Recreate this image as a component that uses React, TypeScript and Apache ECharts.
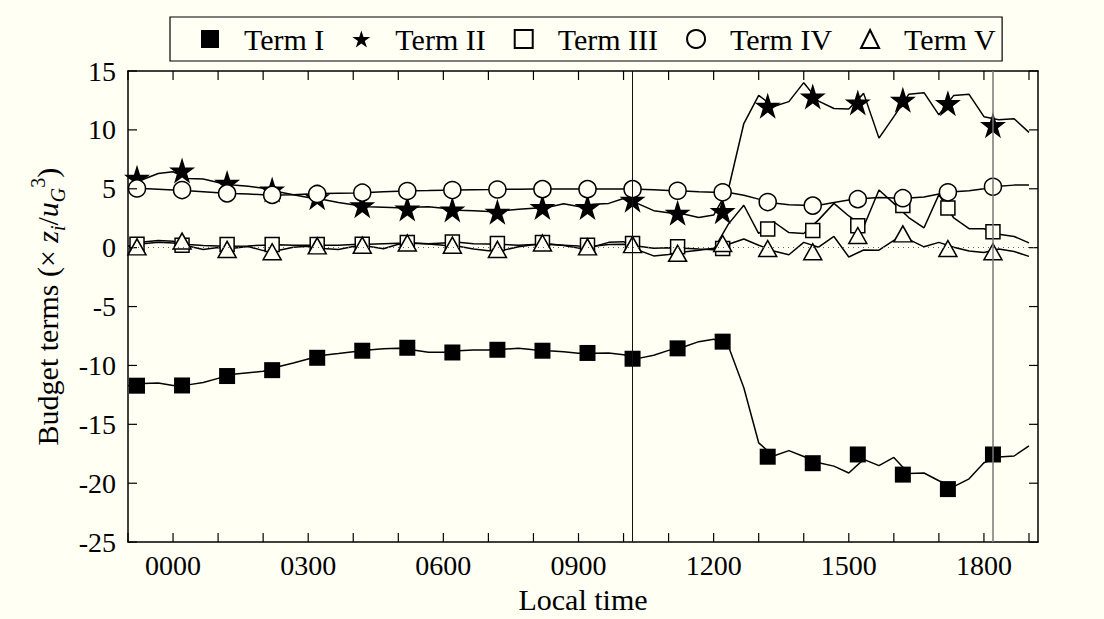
import React, { useEffect, useRef } from 'react';
import * as echarts from 'echarts';

// Local time (hours) of the curve samples
const TIME = [-1, -0.67, -0.33, 0, 0.33, 0.67, 1, 1.33, 1.67, 2, 2.33, 2.67, 3, 3.33, 3.67, 4, 4.33, 4.67, 5, 5.33, 5.67, 6, 6.33, 6.67, 7, 7.33, 7.67, 8, 8.33, 8.67, 9, 9.33, 9.67, 10, 10.33, 10.67, 11, 11.33, 11.67, 12, 12.33, 12.67, 13, 13.33, 13.67, 14, 14.33, 14.67, 15, 15.33, 15.67, 16, 16.33, 16.67, 17, 17.33, 17.67, 18, 18.33, 18.67, 19];

const TERM_I = [-11.72, -11.53, -11.5, -11.7, -11.65, -11.45, -11.1, -10.75, -10.62, -10.5, -10.12, -9.79, -9.46, -9.13, -8.99, -8.83, -8.68, -8.58, -8.54, -8.68, -8.88, -8.88, -8.76, -8.69, -8.69, -8.62, -8.55, -8.66, -8.76, -8.84, -8.97, -8.97, -8.94, -9.09, -9.4, -9.13, -8.72, -8.43, -7.98, -7.77, -8.39, -11.9, -16.57, -17.69, -17.23, -17.73, -18.26, -18.55, -19.13, -17.98, -18.51, -17.81, -19.17, -19.13, -19.79, -20.29, -19.63, -18.26, -17.77, -17.69, -16.82];
const TERM_II = [5.95, 5.79, 6.3, 6.45, 5.87, 5.83, 5.54, 5.33, 5.22, 5.04, 4.75, 4.5, 4.26, 4.09, 3.84, 3.64, 3.47, 3.43, 3.39, 3.43, 3.47, 3.35, 3.18, 3.14, 3.06, 3.14, 3.26, 3.35, 3.43, 3.72, 3.49, 3.68, 3.76, 4.17, 3.72, 3.14, 2.96, 2.85, 2.56, 2.77, 5.0, 10.54, 12.93, 11.98, 12.4, 14.01, 12.44, 11.82, 11.78, 13.1, 9.3, 11.12, 13.02, 13.16, 11.28, 12.93, 13.02, 11.12, 10.87, 10.95, 9.79];
const TERM_III = [0.12, 0.34, 0.45, 0.4, 0.26, 0.18, 0.15, 0.12, 0.15, 0.21, 0.24, 0.21, 0.21, 0.21, 0.21, 0.26, 0.29, 0.34, 0.37, 0.4, 0.34, 0.4, 0.45, 0.34, 0.31, 0.26, 0.21, 0.26, 0.26, 0.21, 0.15, 0.12, 0.26, 0.29, 0.12, -0.04, 0.0, -0.04, -0.12, -0.17, 2.02, 3.6, 1.2, 2.2, 1.28, 1.2, 2.36, 3.76, 2.69, 1.78, 4.9, 3.76, 2.56, 1.69, 4.5, 2.52, 1.61, 1.61, 1.14, 0.95, 0.41];
const TERM_IV = [5.04, 5.02, 4.96, 4.89, 4.83, 4.75, 4.67, 4.6, 4.55, 4.5, 4.48, 4.5, 4.55, 4.59, 4.63, 4.65, 4.69, 4.75, 4.79, 4.83, 4.85, 4.88, 4.9, 4.92, 4.93, 4.95, 4.97, 4.98, 4.98, 4.98, 4.98, 4.98, 4.98, 4.98, 4.96, 4.92, 4.86, 4.81, 4.75, 4.71, 4.69, 4.45, 4.12, 3.8, 3.64, 3.6, 3.6, 3.84, 4.05, 4.17, 4.26, 4.21, 4.21, 4.31, 4.55, 4.74, 4.83, 5.0, 5.21, 5.31, 5.31];
const TERM_V = [0.07, 0.48, 0.6, 0.54, 0.15, -0.15, 0.01, -0.04, 0.1, -0.25, -0.25, 0.04, 0.12, -0.07, -0.15, 0.1, 0.12, -0.1, 0.29, 0.37, 0.31, 0.21, 0.12, -0.12, -0.26, -0.21, 0.07, 0.24, 0.34, 0.18, -0.04, 0.07, 0.45, 0.51, -0.21, -0.7, -0.58, -0.37, -0.21, -0.04, 0.29, 0.74, 0.21, -0.29, -0.6, 0.45, 0.04, 0.95, -0.79, -0.2, -0.21, 0.62, 0.7, 0.07, 0.45, 0.04, -0.29, -0.41, -0.12, -0.33, -0.74];

// Hourly marker positions
const MARK_T = [-0.8, 0.2, 1.2, 2.2, 3.2, 4.2, 5.2, 6.2, 7.2, 8.2, 9.2, 10.2, 11.2, 12.2, 13.2, 14.2, 15.2, 16.2, 17.2, 18.2];
const MARK_I = [-11.72, -11.7, -10.9, -10.4, -9.35, -8.75, -8.5, -8.9, -8.67, -8.75, -8.94, -9.43, -8.55, -7.98, -17.75, -18.3, -17.56, -19.27, -20.5, -17.56];
const MARK_II = [5.93, 6.55, 5.5, 4.94, 4.28, 3.6, 3.32, 3.24, 3.04, 3.45, 3.45, 4.07, 2.96, 3.1, 12.05, 12.83, 12.33, 12.55, 12.27, 10.4];
const MARK_III = [0.29, 0.2, 0.26, 0.26, 0.26, 0.3, 0.43, 0.48, 0.35, 0.43, 0.21, 0.35, 0.07, -0.07, 1.59, 1.45, 1.86, 3.57, 3.37, 1.36];
const MARK_IV = [5.03, 4.89, 4.61, 4.48, 4.56, 4.67, 4.81, 4.89, 4.94, 4.97, 4.97, 4.97, 4.83, 4.7, 3.87, 3.57, 4.12, 4.2, 4.7, 5.17];
const MARK_V = [0.07, 0.56, -0.15, -0.35, 0.15, 0.21, 0.4, 0.21, -0.15, 0.4, 0.07, 0.26, -0.48, 0.35, -0.07, -0.35, 1.03, 1.17, -0.07, -0.35];

const SERIES_NAMES = ['Term I', 'Term II', 'Term III', 'Term IV', 'Term V'];
const X_TICK_LABELS: Record<number, string> = { 0: '0000', 3: '0300', 6: '0600', 9: '0900', 12: '1200', 15: '1500', 18: '1800' };
const X_TICKS = [-1, 0, 1, 2, 3, 4, 5, 6, 7, 8, 9, 10, 11, 12, 13, 14, 15, 16, 17, 18, 19];
const Y_TICKS = [-25, -20, -15, -10, -5, 0, 5, 10, 15];
const VERTICAL_LINES = [10.2, 18.2];

const X_MIN = -1;
const X_MAX = 19.2;
const Y_MIN = -25;
const Y_MAX = 15;

const BG = '#fffff4';
const FONT = "'Liberation Serif', 'Times New Roman', serif";
const STAR = 'path://M100,0 L122.45,69.1 L195.1,69.1 L136.33,111.8 L158.78,180.9 L100,138.2 L41.22,180.9 L63.67,111.8 L4.9,69.1 L77.55,69.1 Z';

export default function App() {
  const ref = useRef<HTMLDivElement>(null);
  useEffect(() => {
    if (!ref.current) return;
    const chart = echarts.init(ref.current, null, { renderer: 'svg' });
    const curves = [TERM_I, TERM_II, TERM_III, TERM_IV, TERM_V];
    const marks = [MARK_I, MARK_II, MARK_III, MARK_IV, MARK_V];
    const markerDefs: any[] = [
      { symbol: 'rect', size: 16, fill: '#000', bw: 0 },
      { symbol: STAR, size: 26, fill: '#000', bw: 0 },
      { symbol: 'rect', size: 14, fill: BG, bw: 1.5 },
      { symbol: 'circle', size: 17, fill: BG, bw: 1.5 },
      { symbol: 'triangle', size: [18, 16], fill: BG, bw: 1.5 },
    ];
    const lineSeries = curves.map((vals, i) => ({
      type: 'line',
      name: SERIES_NAMES[i] + ' curve',
      data: TIME.map((t, j) => [t, vals[j]]),
      showSymbol: false,
      symbol: 'none',
      silent: true,
      z: 2,
      lineStyle: { color: '#000', width: 1.5 },
      markLine: i === 0 ? {
        silent: true,
        symbol: ['none', 'none'],
        label: { show: false },
        data: [
          { xAxis: VERTICAL_LINES[0], lineStyle: { color: '#111', width: 1, type: 'solid' } },
          { xAxis: VERTICAL_LINES[1], lineStyle: { color: '#777', width: 1.5, type: 'solid' } },
          { yAxis: 0, lineStyle: { color: '#666', width: 1, type: [1, 4] } },
        ],
      } : undefined,
    }));
    const markerSeries = marks.map((vals, i) => ({
      type: 'scatter',
      name: SERIES_NAMES[i],
      data: MARK_T.map((t, j) => [t, vals[j]]),
      symbol: markerDefs[i].symbol,
      symbolSize: markerDefs[i].size,
      z: 3,
      silent: true,
      itemStyle: { color: markerDefs[i].fill, borderColor: '#000', borderWidth: markerDefs[i].bw, opacity: 1 },
    }));
    const TICK_LEN = 9;
    const tickStyle = { stroke: '#000', lineWidth: 1.2 };
    // inward ticks on all four sides of the frame, placed through the axes' scales
    const xTickSeries = {
      type: 'custom', name: 'x ticks', silent: true, z: 4, clip: false,
      data: X_TICKS.map((t) => [t, Y_MIN]),
      renderItem: (_p: any, api: any) => {
        const x = api.value(0);
        const b = api.coord([x, Y_MIN]);
        const t = api.coord([x, Y_MAX]);
        return {
          type: 'group',
          children: [
            { type: 'line', shape: { x1: b[0], y1: b[1], x2: b[0], y2: b[1] - TICK_LEN }, style: tickStyle },
            { type: 'line', shape: { x1: t[0], y1: t[1], x2: t[0], y2: t[1] + TICK_LEN }, style: tickStyle },
          ],
        };
      },
    };
    const yTickSeries = {
      type: 'custom', name: 'y ticks', silent: true, z: 4, clip: false,
      data: Y_TICKS.map((v) => [X_MIN, v]),
      renderItem: (_p: any, api: any) => {
        const y = api.value(1);
        const l = api.coord([X_MIN, y]);
        const r = api.coord([X_MAX, y]);
        return {
          type: 'group',
          children: [
            { type: 'line', shape: { x1: l[0], y1: l[1], x2: l[0] + TICK_LEN, y2: l[1] }, style: tickStyle },
            { type: 'line', shape: { x1: r[0], y1: r[1], x2: r[0] - TICK_LEN, y2: r[1] }, style: tickStyle },
          ],
        };
      },
    };
    const mkLine = () => ({ show: true, onZero: false, lineStyle: { color: '#000', width: 1.5 } });
    const noTick = { show: false };
    const labelStyle = { fontFamily: FONT, fontSize: 28, color: '#000' };
    const nameStyle = { fontFamily: FONT, fontSize: 30, color: '#000' };
    chart.setOption({
      animation: false,
      backgroundColor: BG,
      grid: { left: 128, right: 66, top: 71, bottom: 64, containLabel: false },
      legend: {
        data: SERIES_NAMES,
        left: 170,
        top: 17,
        orient: 'horizontal',
        itemWidth: 18,
        itemHeight: 18,
        itemGap: 28,
        padding: [7, 6, 7, 31],
        borderColor: '#000',
        borderWidth: 1.2,
        backgroundColor: BG,
        selectedMode: false,
        textStyle: { ...nameStyle, padding: [0, 0, 0, 20] },
      },
      xAxis: [
        {
          type: 'value', min: X_MIN, max: X_MAX, interval: 1, position: 'bottom',
          axisLine: mkLine(), axisTick: noTick, splitLine: { show: false },
          axisLabel: {
            ...labelStyle, margin: 9,
            formatter: (v: number) => {
              const r = Math.round(v * 1000) / 1000;
              return X_TICK_LABELS[r] ?? '';
            },
          },
          name: 'Local time', nameLocation: 'middle', nameGap: 41,
          nameTextStyle: { ...nameStyle },
        },
        {
          type: 'value', min: X_MIN, max: X_MAX, interval: 1, position: 'top',
          axisLine: mkLine(), axisTick: noTick, splitLine: { show: false }, axisLabel: { show: false },
        },
      ],
      yAxis: [
        {
          type: 'value', min: Y_MIN, max: Y_MAX, interval: 5, position: 'left',
          axisLine: mkLine(), axisTick: noTick, splitLine: { show: false },
          axisLabel: { ...labelStyle, margin: 12 },
          name: '{n|Budget terms (× }{it|z}{sub|i}{n|/}{it|u}{sub|G}{sup|3}{n|)}',
          nameLocation: 'middle', nameRotate: 90, nameGap: 56,
          nameTextStyle: {
            ...nameStyle,
            rich: {
              n: { fontFamily: FONT, fontSize: 30, color: '#000', lineHeight: 40 },
              it: { fontFamily: FONT, fontSize: 30, color: '#000', fontStyle: 'italic', lineHeight: 40 },
              sub: { fontFamily: FONT, fontSize: 20, color: '#000', fontStyle: 'italic', lineHeight: 20, verticalAlign: 'bottom' },
              sup: { fontFamily: FONT, fontSize: 20, color: '#000', lineHeight: 20, verticalAlign: 'top' },
            },
          },
        },
        {
          type: 'value', min: Y_MIN, max: Y_MAX, interval: 5, position: 'right',
          axisLine: mkLine(), axisTick: noTick, splitLine: { show: false }, axisLabel: { show: false },
        },
      ],
      series: [...lineSeries, ...markerSeries, xTickSeries, yTickSeries],
    });
    return () => chart.dispose();
  }, []);
  return <div ref={ref} style={{ position: 'absolute', left: 0, top: 0, width: 1104, height: 619 }} />;
}
